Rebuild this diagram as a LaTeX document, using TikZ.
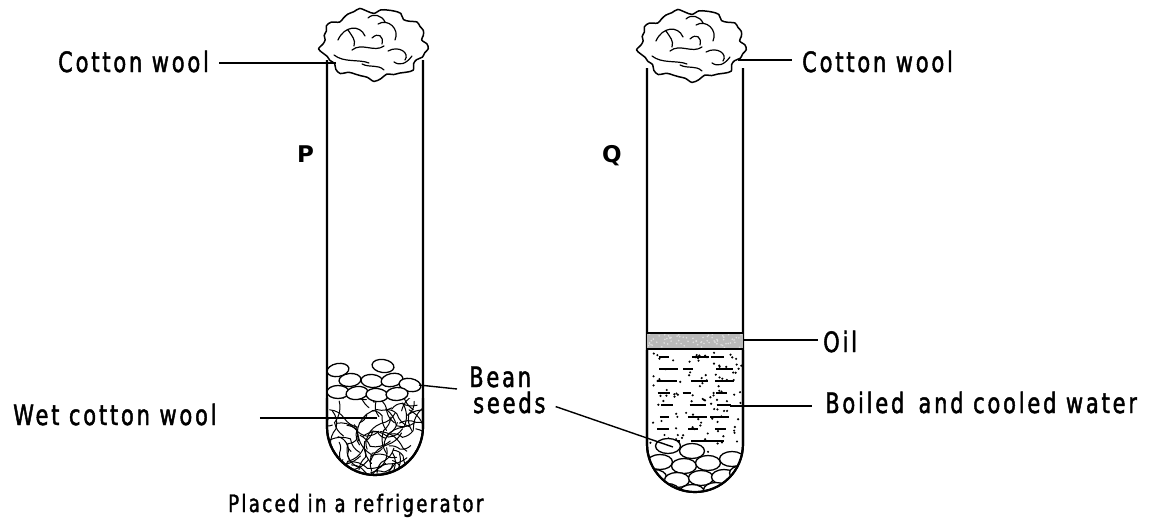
\documentclass[tikz,border=0pt]{standalone}
\usepackage{fontspec}
\newfontfamily\labfont[FakeStretch=0.75,LetterSpace=10,FakeBold=1.6]{DejaVu Sans}
\newfontfamily\tagfont{DejaVu Sans}
\begin{document}
\begin{tikzpicture}[x=1pt,y=-1pt,
  wall/.style={line width=2.2pt,line join=round},
  lead/.style={line width=1.4pt},
  thin/.style={line width=1pt,line cap=round},
  lab/.style={font=\labfont\fontsize{28}{32}\selectfont,inner sep=0pt,anchor=base west},
  smalllab/.style={font=\labfont\fontsize{24}{28}\selectfont,inner sep=0pt,anchor=base west},
  tag/.style={font=\tagfont\bfseries\fontsize{23}{26}\selectfont,inner sep=0pt,anchor=base west},
  bean/.style={line width=1.3pt,fill=white},
  cottonwool/.pic={
    \draw[line width=1.5pt,fill=white,line join=round]
      plot[smooth cycle,samples=48,domain=0:352.5,variable=\t]
      ({52*cos(\t)*(1+0.05*sin(9*\t)+0.03*sin(17*\t+40))},
       {34*sin(\t)*(1+0.07*sin(9*\t)+0.04*sin(17*\t+40))});
    \draw[line width=1.2pt,line cap=round]
      (-36,-4) .. controls (-30,-18) and (-14,-20) .. (-9,-8)
      (-22,6) .. controls (-12,-2) and (0,9) .. (10,2)
      (4,-20) .. controls (14,-26) and (26,-15) .. (21,-4)
      (14,7) .. controls (25,1) and (36,9) .. (31,16)
      (-40,11) .. controls (-30,19) and (-15,15) .. (-5,19)
      (-6,-26) .. controls (-1,-31) and (8,-29) .. (11,-22)
      (-26,-14) .. controls (-22,-8) and (-18,-4) .. (-20,2)
      (-2,-6) .. controls (4,-12) and (10,-8) .. (8,0)
      (-12,20) .. controls (-4,24) and (4,20) .. (10,26)
      (20,18) .. controls (26,22) and (32,20) .. (38,12);
  }]
\useasboundingbox (0,0) rectangle (1170,522);

% ---------------- tube P ----------------
\draw[wall] (327,60) -- (327,427) arc[start angle=180,end angle=360,radius=48pt] -- (423,60);

% wet cotton wool packed in the bottom of P
\begin{scope}
  \clip (328,398) -- (328,427) arc[start angle=180,end angle=360,radius=47pt] -- (422,398) -- cycle;
  \pgfmathsetseed{3}
  \foreach \i in {1,...,75}{
    \pgfmathsetmacro\xa{328+94*rnd}
    \pgfmathsetmacro\ya{398+78*rnd}
    \pgfmathsetmacro\anga{360*rnd}
    \pgfmathsetmacro\angb{\anga+70-140*rnd}
    \pgfmathsetmacro\lena{10+16*rnd}
    \pgfmathsetmacro\lenb{8+12*rnd}
    \draw[thin] (\xa,\ya) to[bend left=25] ++(\anga:\lena pt) to[bend right=20] ++(\angb:\lenb pt);
  }
\end{scope}
\draw[wall] (327,398) -- (327,427) arc[start angle=180,end angle=360,radius=48pt] -- (423,398);

% bean seeds resting on the wet cotton wool
\foreach \bx/\by/\rot in {338/370/10,383/366/-8,350/380/5,372/381/-5,392/380/12,410/385/-10,
                          338/392/0,357/393/8,377/395/-6,397/394/4}{
  \draw[bean,rotate around={\rot:(\bx,\by)}] (\bx,\by) ellipse[x radius=11pt,y radius=6.5pt];
}

\pic at (374,44) {cottonwool};

% ---------------- tube Q ----------------
\draw[wall] (647,68) -- (647,444) arc[start angle=180,end angle=360,radius=48pt] -- (743,68);

% oil layer
\fill[gray!55] (647,333) rectangle (743,349);
\begin{scope}
  \clip (648,334) rectangle (742,348);
  \pgfmathsetseed{11}
  \foreach \i in {1,...,70}{
    \fill[gray!25] ({648+94*rnd},{334+14*rnd}) circle[radius=0.9pt];
  }
\end{scope}
\draw[line width=1.6pt] (647,333) -- (743,333) (647,349) -- (743,349);

% boiled and cooled water
\begin{scope}
  \clip (648,350) -- (648,444) arc[start angle=180,end angle=360,radius=47pt] -- (742,350) -- cycle;
  \pgfmathsetseed{21}
  \foreach \ry in {357,369,381,393,405,417,429,441}{
    \foreach \k in {0,1,2}{
      \pgfmathsetmacro\dx{650+30*\k+14*rnd}
      \pgfmathsetmacro\dl{8+12*rnd}
      \draw[line width=1.4pt] (\dx,\ry) -- ++(\dl pt,0pt);
    }
  }
  \foreach \i in {1,...,110}{
    \fill ({650+92*rnd},{352+100*rnd}) circle[radius=1.2pt];
  }
  % bean seeds at the bottom of Q
  \foreach \bx/\by in {668/446,692/451,
                       660/462,684/466,708/463,732/459,
                       654/477,677/480,701/478,724/477,742/473,
                       667/491,692/492,716/490}{
    \draw[bean] (\bx,\by) ellipse[x radius=12.5pt,y radius=7.5pt];
  }
\end{scope}
\draw[wall] (647,350) -- (647,444) arc[start angle=180,end angle=360,radius=48pt] -- (743,350);

\begin{scope}[scale=1.07]
  \pic at (692/1.07,45/1.07) {cottonwool};
\end{scope}

% ---------------- labels ----------------
\node[lab] (cwP) at (58,72) {Cotton wool};
\node[lab] (cwQ) at (802,72) {Cotton wool};
\node[tag] (tagP) at (297,162) {P};
\node[tag] (tagQ) at (602,162) {Q};
\node[lab] (oil) at (823,352) {Oil};
\node[lab] (bean) at (469,387) {Bean};
\node[lab] (seeds) at (473,413) {seeds};
\node[lab] (wet) at (13,425) {Wet cotton wool};
\node[lab] (water) at (825,413) {Boiled\, and cooled water};
\node[smalllab] (fridge) at (228,512) {Placed in a refrigerator};

% ---------------- leader lines ----------------
\coordinate (cwPend) at (336,63);
\coordinate (cwQend) at (738,60);
\coordinate (oilend) at (743,340);
\coordinate (waterend) at (730,406);
\coordinate (beanend) at (419,385);
\coordinate (seedsend) at (673,447);
\coordinate (wetend) at (377,418);

\draw[lead] (cwPend) -- ([xshift=10pt]cwPend -| cwP.east);
\draw[lead] (cwQend) -- ([xshift=-10pt]cwQend -| cwQ.west);
\draw[lead] (oilend) -- ([xshift=-5pt]oilend -| oil.west);
\draw[lead] (waterend) -- ([xshift=-13pt]waterend -| water.west);
\draw[lead] (beanend) -- ([xshift=-12pt,yshift=-4pt]beanend -| bean.west);
\draw[lead] ([xshift=10pt,yshift=-4pt]seeds.east) -- (seedsend);
\draw[lead] ([xshift=43pt]wetend -| wet.east) -- (wetend);
\end{tikzpicture}
\end{document}
